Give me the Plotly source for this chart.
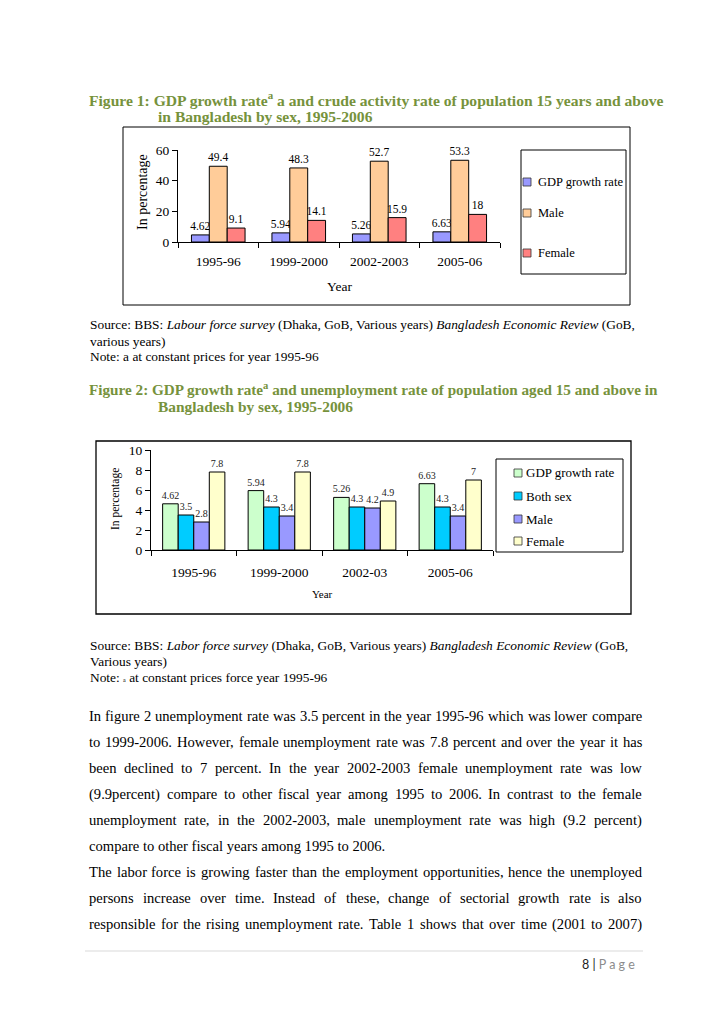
import plotly.graph_objects as go

# ---------------- data ----------------
years1 = ["1995-96", "1999-2000", "2002-2003", "2005-06"]
gdp1 = [4.62, 5.94, 5.26, 6.63]
male1 = [49.4, 48.3, 52.7, 53.3]
female1 = [9.1, 14.1, 15.9, 18]

years2 = ["1995-96", "1999-2000", "2002-03", "2005-06"]
gdp2 = [4.62, 5.94, 5.26, 6.63]
both2 = [3.5, 4.3, 4.3, 4.3]
male2 = [2.8, 3.4, 4.2, 3.4]
female2 = [7.8, 7.8, 4.9, 7]

names1 = ["GDP growth rate", "Male", "Female"]
colors1 = ["#9999FF", "#FFCC99", "#FF8080"]
names2 = ["GDP growth rate", "Both sex", "Male", "Female"]
colors2 = ["#CCFFCC", "#00CCFF", "#9999FF", "#FFFFCC"]

W, H = 728, 1030
SERIF = "Liberation Serif"
OLIVE = "#76923C"


def X(px):
    return px / W


def Y(py):
    return 1 - py / H


fig = go.Figure()

# ---------------- chart 1 ----------------
bw1 = 0.222
for i, (nm, vals, col) in enumerate(zip(names1, [gdp1, male1, female1], colors1)):
    fig.add_trace(go.Bar(
        x=years1, y=vals, name=nm, xaxis="x", yaxis="y",
        marker=dict(color=col, line=dict(color="black", width=1)),
        width=bw1, offset=-1.5 * bw1 + i * bw1,
        text=[f"{v:g}" for v in vals], textposition="outside",
        textfont=dict(family=SERIF, size=11.5, color="black"),
        cliponaxis=False, constraintext="none", showlegend=False,
    ))

# ---------------- chart 2 ----------------
bw2 = 0.182
for i, (nm, vals, col) in enumerate(zip(names2, [gdp2, both2, male2, female2], colors2)):
    fig.add_trace(go.Bar(
        x=years2, y=vals, name=nm, xaxis="x2", yaxis="y2",
        marker=dict(color=col, line=dict(color="black", width=1)),
        width=bw2, offset=-2 * bw2 + i * bw2,
        text=[f"{v:g}" for v in vals], textposition="outside",
        textfont=dict(family=SERIF, size=10, color="#222"),
        cliponaxis=False, constraintext="none", showlegend=False,
    ))

axis_common = dict(showline=True, linecolor="black", linewidth=1, ticks="outside",
                   ticklen=5, tickcolor="black", showgrid=False, zeroline=False,
                   fixedrange=True, automargin=False)

fig.update_layout(
    width=W, height=H,
    margin=dict(l=0, r=0, t=0, b=0, autoexpand=False),
    paper_bgcolor="white", plot_bgcolor="rgba(0,0,0,0)",
    barmode="overlay",
    xaxis=dict(domain=[X(178), X(500)], anchor="y", type="category", tickson="boundaries",
               ticklabelstandoff=7,
               tickfont=dict(family=SERIF, size=13.5, color="black"), **axis_common),
    yaxis=dict(domain=[Y(242), Y(150)], anchor="x", range=[0, 60], dtick=20,
               tickfont=dict(family=SERIF, size=13.5, color="black"), **axis_common),
    xaxis2=dict(domain=[X(151), X(493)], anchor="y2", type="category", tickson="boundaries",
                ticklabelstandoff=10,
                tickfont=dict(family=SERIF, size=13.5, color="black"), **axis_common),
    yaxis2=dict(domain=[Y(550), Y(450)], anchor="x2", range=[0, 10], dtick=2,
                tickfont=dict(family=SERIF, size=13.5, color="black"), **axis_common),
)

shapes = []
annotations = []


def rect(x0, y0, x1, y1, color="black", width=1, fill=None):
    shapes.append(dict(type="rect", xref="paper", yref="paper",
                       x0=X(x0), x1=X(x1), y0=Y(y1), y1=Y(y0),
                       line=dict(color=color, width=width),
                       fillcolor=fill if fill else "rgba(0,0,0,0)", layer="below" if fill is None else "above"))


def text(x, y, s, size, anchor="left", color="black", family=SERIF, angle=0):
    annotations.append(dict(xref="paper", yref="paper", x=X(x), y=Y(y), text=s,
                            showarrow=False, xanchor=anchor, yanchor="middle",
                            textangle=angle,
                            font=dict(family=family, size=size, color=color)))


# chart frames
rect(123, 127, 630, 305)
rect(96, 441, 631, 614, width=1.3)

# axis titles
text(339, 287, "Year", 13.5, anchor="center")
text(142, 192, "In percentage", 14, anchor="center", angle=-90)
text(322, 594, "Year", 11, anchor="center")
text(116, 499, "In percentage", 11.5, anchor="center", angle=-90)

# legend 1
rect(521, 150, 626, 274, width=1)
for nm, col, yy in zip(names1, colors1, [182, 213, 253]):
    rect(523, yy - 4, 531, yy + 4, color="#333", width=0.8, fill=col)
    text(536, yy, nm, 12.5)

# legend 2
rect(496, 459, 623, 552, width=1)
for nm, col, yy in zip(names2, colors2, [473, 496, 519, 541]):
    rect(514, yy - 4, 522, yy + 4, color="#333", width=0.8, fill=col)
    text(524, yy, nm, 13)

# titles
text(87, 99, "<b>Figure 1: GDP growth rate<sup>a</sup> a and crude activity rate of population 15 years and above</b>",
     15.6, color=OLIVE)
text(156, 116, "<b>in Bangladesh by sex, 1995-2006</b>", 15.6, color=OLIVE)
text(87, 389, "<b>Figure 2: GDP growth rate<sup>a</sup> and unemployment rate of population aged 15 and above in</b>",
     15.2, color=OLIVE)
text(156, 406, "<b>Bangladesh by sex, 1995-2006</b>", 15.4, color=OLIVE)

# sources
text(88, 324, "Source: BBS: <i>Labour force survey</i> (Dhaka, GoB, Various years) <i>Bangladesh Economic Review</i> (GoB,", 13.4)
text(88, 341, "various years)", 13.4)
text(88, 357, "Note: a at constant prices for year 1995-96", 13.4)
text(88, 645, "Source: BBS: <i>Labor force survey</i> (Dhaka, GoB, Various years) <i>Bangladesh Economic Review</i> (GoB,", 13.4)
text(88, 661, "Various years)", 13.4)
text(88, 677, "Note: <span style='font-size:6px'>a</span> at constant prices force year 1995-96", 13.4)

# paragraph (justified using Times metrics, Liberation Serif is metric compatible)
TW = {' ': 250, '!': 333, '(': 333, ')': 333, ',': 250, '-': 333, '.': 250, '/': 278, ':': 278,
      ';': 278, '%': 833, 'A': 722, 'B': 667, 'C': 667, 'D': 722, 'E': 611, 'F': 556, 'G': 722,
      'H': 722, 'I': 333, 'J': 389, 'K': 722, 'L': 611, 'M': 889, 'N': 722, 'O': 722, 'P': 556,
      'Q': 722, 'R': 667, 'S': 556, 'T': 611, 'U': 722, 'V': 722, 'W': 944, 'X': 722, 'Y': 722,
      'Z': 611, 'a': 444, 'b': 500, 'c': 444, 'd': 500, 'e': 444, 'f': 333, 'g': 500, 'h': 500,
      'i': 278, 'j': 278, 'k': 500, 'l': 278, 'm': 778, 'n': 500, 'o': 500, 'p': 500, 'q': 500,
      'r': 333, 's': 389, 't': 278, 'u': 500, 'v': 500, 'w': 722, 'x': 500, 'y': 500, 'z': 444}


def tw(s, size):
    return sum(TW.get(c, 500) for c in s) / 1000 * size


para_lines = [
    ("In figure 2 unemployment rate was 3.5 percent in the year 1995-96 which was lower compare", True),
    ("to 1999-2006. However, female unemployment rate was 7.8 percent and over the year it has", True),
    ("been declined to 7 percent. In the year 2002-2003 female unemployment rate was low", True),
    ("(9.9percent) compare to other fiscal year among 1995 to 2006. In contrast to the female", True),
    ("unemployment rate, in the 2002-2003, male unemployment rate was high (9.2 percent)", True),
    ("compare to other fiscal years among 1995 to 2006.", False),
    ("The labor force is growing faster than the employment opportunities, hence the unemployed", True),
    ("persons increase over time. Instead of these, change of sectorial growth rate is also", True),
    ("responsible for the rising unemployment rate. Table 1 shows that over time (2001 to 2007)", True),
]
PS = 14.6
left, right = 88, 641
y0, dy = 716, 26
for k, (line, just) in enumerate(para_lines):
    yy = y0 + k * dy
    if not just:
        text(left - 1, yy, line, PS)
        continue
    words = line.split(" ")
    widths = [tw(w, PS) for w in words]
    gap = (right - left - sum(widths)) / (len(words) - 1)
    xx = left
    for w, wd in zip(words, widths):
        text(xx - 1, yy, w, PS)
        xx += wd + gap

# footer
shapes.append(dict(type="line", xref="paper", yref="paper", x0=X(85), x1=X(643), y0=Y(951), y1=Y(951),
                   line=dict(color="#d9d9d9", width=1)))
text(637, 964, "8 | <span style='color:#8c8c8c'>P a g e</span>", 12.5, anchor="right", family="Lato", color="#222")

fig.update_layout(shapes=shapes, annotations=annotations)
fig.write_html("out.html", config={"displayModeBar": False},
               post_script="document.body.style.margin='0';document.body.style.padding='0';")
